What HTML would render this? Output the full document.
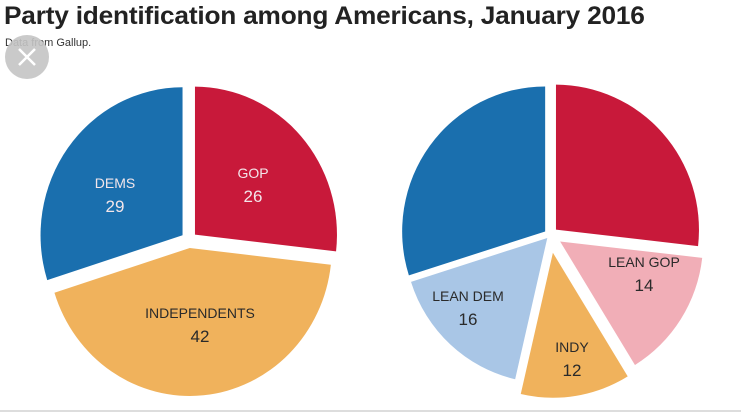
<!DOCTYPE html>
<html><head><meta charset="utf-8"><style>
body{margin:0;width:741px;height:415px;background:#fff;overflow:hidden;font-family:"Liberation Sans",sans-serif}
#title{position:absolute;left:4px;top:2px;font-size:25px;font-weight:bold;color:#222;white-space:nowrap;transform:scaleX(1.05);transform-origin:0 0;letter-spacing:-0.2px}
#sub{position:absolute;left:5px;top:37px;font-size:11px;color:#333}
</style></head><body>
<div id="title">Party identification among Americans, January 2016</div>
<div id="sub">Data from Gallup.</div>
<svg id="chart" width="741" height="415" style="position:absolute;left:0;top:0">
<circle cx="27" cy="57" r="22" fill="#c4c4c4" opacity="0.9"/>
<path d="M19 49 L35 65 M35 49 L19 65" stroke="#fff" stroke-width="2.5"/>
<line x1="0" y1="411" x2="741" y2="411" stroke="#ddd" stroke-width="2"/>
</svg>
<script>
const leftLabels=["GOP","INDEPENDENTS","DEMS"];
const leftValues=[26,42,29];
const leftColors=["#c8193a","#f0b25c","#1a6fae"];
const leftOffsets=[8,8,8];
const rightLabels=["","LEAN GOP","INDY","LEAN DEM",""];
const rightValues=[26,14,12,16,29];
const rightColors=["#c8193a","#f1aeb7","#f0b25c","#a9c6e6","#1a6fae"];
const rightOffsets=[8,12,18,4,6];
const svg=document.getElementById('chart');
const NS='http://www.w3.org/2000/svg';
function drawPie(cx,cy,rx,ry,labels,values,colors,offs,labelPos,prefix){
  const total=values.reduce((a,b)=>a+b,0);
  let a0=0;
  values.forEach((v,i)=>{
    const a1=a0+v/total*Math.PI*2, mid=(a0+a1)/2;
    const ox=Math.sin(mid)*offs[i], oy=-Math.cos(mid)*offs[i];
    const x0=cx+ox+rx*Math.sin(a0), y0=cy+oy-ry*Math.cos(a0);
    const x1=cx+ox+rx*Math.sin(a1), y1=cy+oy-ry*Math.cos(a1);
    const large=(a1-a0)>Math.PI?1:0;
    const p=document.createElementNS(NS,'path');
    p.setAttribute('d',`M${cx+ox},${cy+oy} L${x0},${y0} A${rx},${ry} 0 ${large} 1 ${x1},${y1} Z`);
    p.setAttribute('fill',colors[i]);
    
    
    svg.appendChild(p);
    if(labels[i]){
      const lp=labelPos[i]; const dark=(colors[i]=="#c8193a"||colors[i]=="#1a6fae");
      [[labels[i],0],[String(v),24]].forEach(([t,dy],k)=>{
        const tx=document.createElementNS(NS,'text');
        tx.setAttribute('x',lp[0]);tx.setAttribute('y',lp[1]+dy);
        tx.setAttribute('text-anchor','middle');
        tx.setAttribute('font-size',k?17:14);
        tx.setAttribute('font-family','Liberation Sans, sans-serif');
        tx.setAttribute('fill',dark?'#f3e6ea':'#2a2a2a');
        tx.textContent=t;
        
        
        svg.appendChild(tx);
      });
    }
    a0=a1;
  });
}
drawPie(189,240,142,148,leftLabels,leftValues,leftColors,leftOffsets,[[253,178],[200,318],[115,188]],'left-pie');
drawPie(550,235,143,145,rightLabels,rightValues,rightColors,rightOffsets,[null,[644,267],[572,352],[468,301],null],'right-pie');
</script>
</body></html>
